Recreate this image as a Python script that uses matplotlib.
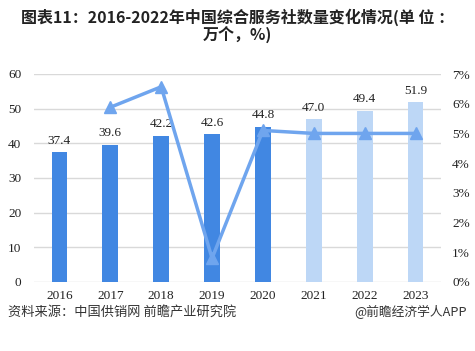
import matplotlib.pyplot as plt
import matplotlib as mpl

mpl.rcParams["font.family"] = ["Noto Sans CJK SC", "DejaVu Sans"]

# ── Data ──────────────────────────────────────────────────────────────────────
years = ["2016", "2017", "2018", "2019", "2020", "2021", "2022", "2023"]
counts = [37.4, 39.6, 42.2, 42.6, 44.8, 47.0, 49.4, 51.9]   # 万个
is_forecast = [False, False, False, False, False, True, True, True]
growth_years = ["2017", "2018", "2019", "2020", "2021", "2022", "2023"]
growth = [5.88, 6.57, 0.8, 5.1, 5.0, 5.0, 5.0]               # %
left_ticks = [0, 10, 20, 30, 40, 50, 60]
right_ticks = [0, 1, 2, 3, 4, 5, 6, 7]

DARK = "#4187E2"
LIGHT = "#BDD7F6"
LINE = "#6FA5EE"
GRID = "#D9D9D9"
SERIF = "Liberation Serif"

fig = plt.figure(figsize=(4.75, 3.51), dpi=100)
ax = fig.add_axes([34 / 475, 1 - 282 / 351, 407 / 475, 208 / 351])
ax2 = ax.twinx()

xpos = list(range(len(years)))
colors = [LIGHT if f else DARK for f in is_forecast]
ax.bar(xpos, counts, width=0.31, color=colors, zorder=2)
for x, v in zip(xpos, counts):
    ax.annotate(f"{v:.1f}", (x, v), xytext=(0, 4), textcoords="offset points",
                ha="center", va="bottom", fontsize=9.5, family=SERIF, color="#222222")

ax.set_ylim(0, 60)
ax.set_yticks(left_ticks)
ax.set_xlim(-0.5, len(years) - 0.5)
ax.set_xticks(xpos)
ax.set_xticklabels(years)
ax.yaxis.grid(True, color=GRID, lw=1, zorder=0)
ax.set_axisbelow(True)

gx = [years.index(y) for y in growth_years]
ax2.plot(gx, growth, color=LINE, lw=2.5, marker="^", markersize=8, zorder=3)
ax2.set_ylim(0, 7)
ax2.set_yticks(right_ticks)
ax2.set_yticklabels([f"{t}%" for t in right_ticks])

for a in (ax, ax2):
    for s in a.spines.values():
        s.set_visible(False)
    a.tick_params(length=0, labelsize=9.5, colors="#222222")
    for lab in a.get_xticklabels() + a.get_yticklabels():
        lab.set_family(SERIF)
ax.tick_params(axis="y", pad=9)
ax.tick_params(axis="x", pad=6)
ax2.tick_params(axis="y", pad=8)

fig.text(0.5, 1 - 17 / 351, "图表11：2016-2022年中国综合服务社数量变化情况(单 位 ：",
         ha="center", va="center", fontsize=11.5, fontweight="bold", color="#222222")
fig.text(0.5, 1 - 34 / 351, "万个，%)",
         ha="center", va="center", fontsize=11.5, fontweight="bold", color="#222222")
fig.text(8 / 475, 1 - 312 / 351, "资料来源：中国供销网 前瞻产业研究院",
         ha="left", va="center", fontsize=9.5, color="#333333")
fig.text(467 / 475, 1 - 312 / 351, "@前瞻经济学人APP",
         ha="right", va="center", fontsize=9.2, color="#333333")

fig.savefig("out.png", dpi=100)
